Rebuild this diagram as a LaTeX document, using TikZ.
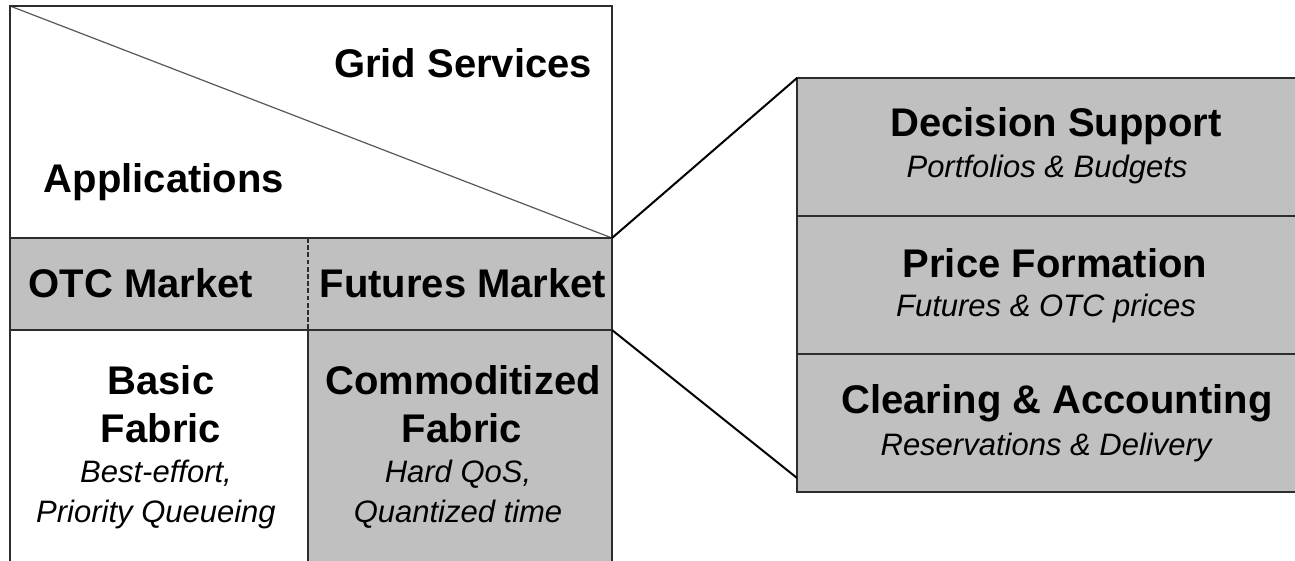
\documentclass[tikz,border=0pt]{standalone}
\usepackage{fontspec}
\setmainfont{Liberation Sans}
\usetikzlibrary{positioning,calc}
\definecolor{cellgray}{RGB}{192,192,192}
\definecolor{linegray}{RGB}{45,45,45}

\begin{document}
\begin{tikzpicture}[x=0.5pt,y=-0.5pt,
    layer/.style={draw=linegray, line width=1pt, fill=cellgray, minimum width=259pt, minimum height=69pt, inner sep=0pt, outer sep=0pt},
    band/.style={draw=linegray, line width=1pt, fill=cellgray, minimum width=301pt, minimum height=46pt, inner sep=0pt, outer sep=0pt},
    hd/.style={font=\fontsize{20}{24}\selectfont\bfseries, inner sep=0pt, anchor=base},
    sb/.style={font=\fontsize{15.5}{18}\selectfont\itshape, inner sep=0pt, anchor=base}]
    \useasboundingbox (0,0) rectangle (1295,561);
    % Left stack
    \fill[cellgray] (308,330) rectangle (612,561);
    \draw[linegray!80, line width=0.6pt] (10,6) -- (612,238);
    \node[band] (mkt) at (311,284) {};
    \draw[linegray, line width=1pt] (10,561) -- (10,6) -- (612,6) -- (612,561);
    \draw[linegray, line width=1pt] (308,330) -- (308,561);
    \draw[linegray, line width=0.6pt, dash pattern=on 2.4pt off 1.2pt] (308,238) -- (308,330);
    % Left labels
    \node[hd] (gs) at (463,78) {Grid Services};
    \node[hd] (app) at (164,193) {Applications};
    \node[hd] (otc) at (141,297) {OTC Market};
    \node[hd] (fut) at (463,297) {Futures Market};
    \node[hd] (bas1) at (161,394) {Basic};
    \node[hd] (bas2) at (161,442) {Fabric};
    \node[sb] (bas3) at (156,482) {Best-effort,};
    \node[sb] (bas4) at (156,522) {Priority Queueing};
    \node[hd] (com1) at (463,394) {Commoditized};
    \node[hd] (com2) at (462,442) {Fabric};
    \node[sb] (com3) at (458,482) {Hard QoS,};
    \node[sb] (com4) at (458,522) {Quantized time};
    % Right stack
    \node[layer] (dec) at (1056,147) {};
    \node[layer, below=0pt of dec] (price) {};
    \node[layer, below=0pt of price] (clear) {};
    \node[hd] (decT) at (1056,137) {Decision Support};
    \node[sb] (decS) at (1047,178) {Portfolios \& Budgets};
    \node[hd] (priceT) at (1055,278) {Price Formation};
    \node[sb] (priceS) at (1046,316) {Futures \& OTC prices};
    \node[hd] (clearT) at (1057,413) {Clearing \& Accounting};
    \node[sb] (clearS) at (1046,455) {Reservations \& Delivery};
    % Zoom lines
    \coordinate (zb) at (797,478);
    \draw[black, line width=1pt] (mkt.north east) -- (dec.north west);
    \draw[black, line width=1pt] (mkt.south east) -- (zb);
\end{tikzpicture}
\end{document}
